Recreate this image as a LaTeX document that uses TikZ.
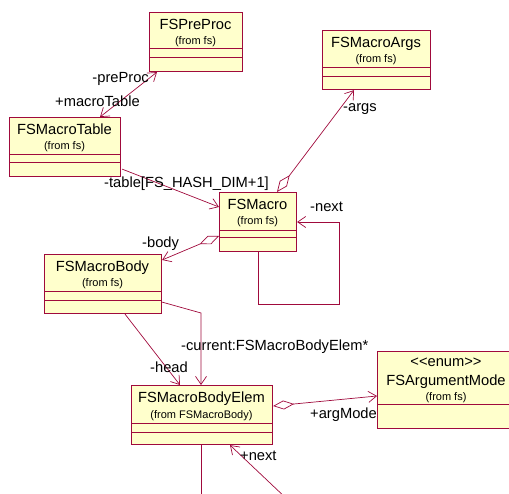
\documentclass[tikz,border=0pt]{standalone}
\usepackage{fontspec}
\setmainfont{Liberation Sans}
\usetikzlibrary{arrows.meta,calc}
\definecolor{umlred}{RGB}{160,10,60}
\definecolor{umlfill}{RGB}{255,255,204}

% class box: name, left, top, right, bottom, first divider, second divider
\newcommand\umlclass[7]{%
  \node[classbox, minimum width={#4-#2}, minimum height={#5-#3}] (#1) at (#2,#3) {};
  \draw[divider] (#2,#6) -- (#4,#6);
  \draw[divider] (#2,#7) -- (#4,#7);
}

\tikzset{
  classbox/.style={draw=umlred, fill=umlfill, line width=1.1pt, inner sep=0pt, anchor=north west},
  divider/.style={draw=umlred, line width=1pt},
  cname/.style={font=\fontsize{14.7}{16}\selectfont, inner sep=0pt, anchor=base},
  cfrom/.style={font=\fontsize{11}{12}\selectfont, inner sep=0pt, anchor=base},
  role/.style={font=\fontsize{14.7}{16}\selectfont, inner sep=0pt, anchor=base west},
  assoc/.style={draw=umlred, line width=0.7pt},
  nav/.style={assoc, -{Straight Barb[length=8pt,width=11pt]}},
  biNav/.style={assoc, {Straight Barb[length=8pt,width=11pt]}-{Straight Barb[length=8pt,width=11pt]}},
  aggr/.style={assoc, {Diamond[open,length=21pt,width=9pt]}-{Straight Barb[length=8pt,width=11pt]}}
}

\begin{document}
\begin{tikzpicture}[x=1pt,y=-1pt]
\useasboundingbox (0,0) rectangle (509,494);

% classes
\umlclass{pre}{149}{12}{242}{71}{49}{58}
\node[cname] (preN) at (195.5,29.5) {FSPreProc};
\node[cfrom] (preF) at (195.5,45) {(from fs)};

\umlclass{table}{9}{117}{120}{176}{155}{163}
\node[cname] (tableN) at (64.5,134.5) {FSMacroTable};
\node[cfrom] (tableF) at (64.5,150) {(from fs)};

\umlclass{args}{322}{30}{430}{89}{68}{77}
\node[cname] (argsN) at (376,47.5) {FSMacroArgs};
\node[cfrom] (argsF) at (376,63) {(from fs)};

\umlclass{macro}{219}{192}{296}{251}{231}{238}
\node[cname] (macroN) at (257.5,209.5) {FSMacro};
\node[cfrom] (macroF) at (257.5,225) {(from fs)};

\umlclass{body}{44}{254}{161}{313}{292}{301}
\node[cname] (bodyN) at (102.5,271.5) {FSMacroBody};
\node[cfrom] (bodyF) at (102.5,287) {(from fs)};

\umlclass{elem}{131}{385}{272}{444}{423}{432}
\node[cname] (elemN) at (201.5,402.5) {FSMacroBodyElem};
\node[cfrom] (elemF) at (201.5,418) {(from FSMacroBody)};

\umlclass{mode}{377}{351}{515}{428}{405}{405}
\node[cname] (modeS) at (446,367) {<{}<enum>{}>};
\node[cname] (modeN) at (446,385) {FSArgumentMode};
\node[cfrom] (modeF) at (446,401) {(from fs)};

% associations
\draw[biNav] ($(pre.south west)+(8,0)$) -- ($(table.north west)+(91,0)$);
\node[role, anchor=base east] (lPre) at (149,83) {-preProc};
\node[role] (lTab) at (55,107) {+macroTable};

\draw[nav] ($(table.south east)+(1,-8)$) -- ($(macro.north west)+(0,15)$);
\node[role] (lTable) at (104,188) {-table[FS\_HASH\_DIM+1]};

\draw[aggr] ($(macro.north west)+(58,0)$) -- ($(args.south west)+(32,0)$);
\node[role] (lArgs) at (343,112) {-args};

\draw[nav] ($(macro.south west)+(39,0)$) -- ++(0,52) -- ++(81,0)
  |- ($(macro.north east)+(0,30)$);
\node[role] (lNext) at (310,212) {-next};

\draw[aggr] ($(macro.north west)+(0,44)$) -- ($(body.north east)+(0,6)$);
\node[role] (lBody) at (142,248) {-body};

\draw[nav] ($(body.south west)+(81,0)$) -- ($(elem.north west)+(49,0)$);
\node[role] (lHead) at (150,373) {-head};

\coordinate (bend) at (201,313);
\draw[nav] ($(body.south east)+(0,-12)$) -- (bend) -- ($(elem.north west)+(70,0)$);
\node[role] (lCur) at (181,351) {-current:FSMacroBodyElem*};

\draw[aggr] ($(elem.north east)+(0,21)$) -- ($(mode.north west)+(0,45)$);
\node[role] (lMode) at (310,418) {+argMode};

\coordinate (down) at (201,500);
\draw[assoc] ($(elem.south west)+(70,0)$) -- (down);

\coordinate (nextIn) at (288,500);
\draw[nav] (nextIn) -- ($(elem.south west)+(99,0)$);
\node[role] (lNext2) at (240,460) {+next};
\end{tikzpicture}
\end{document}
